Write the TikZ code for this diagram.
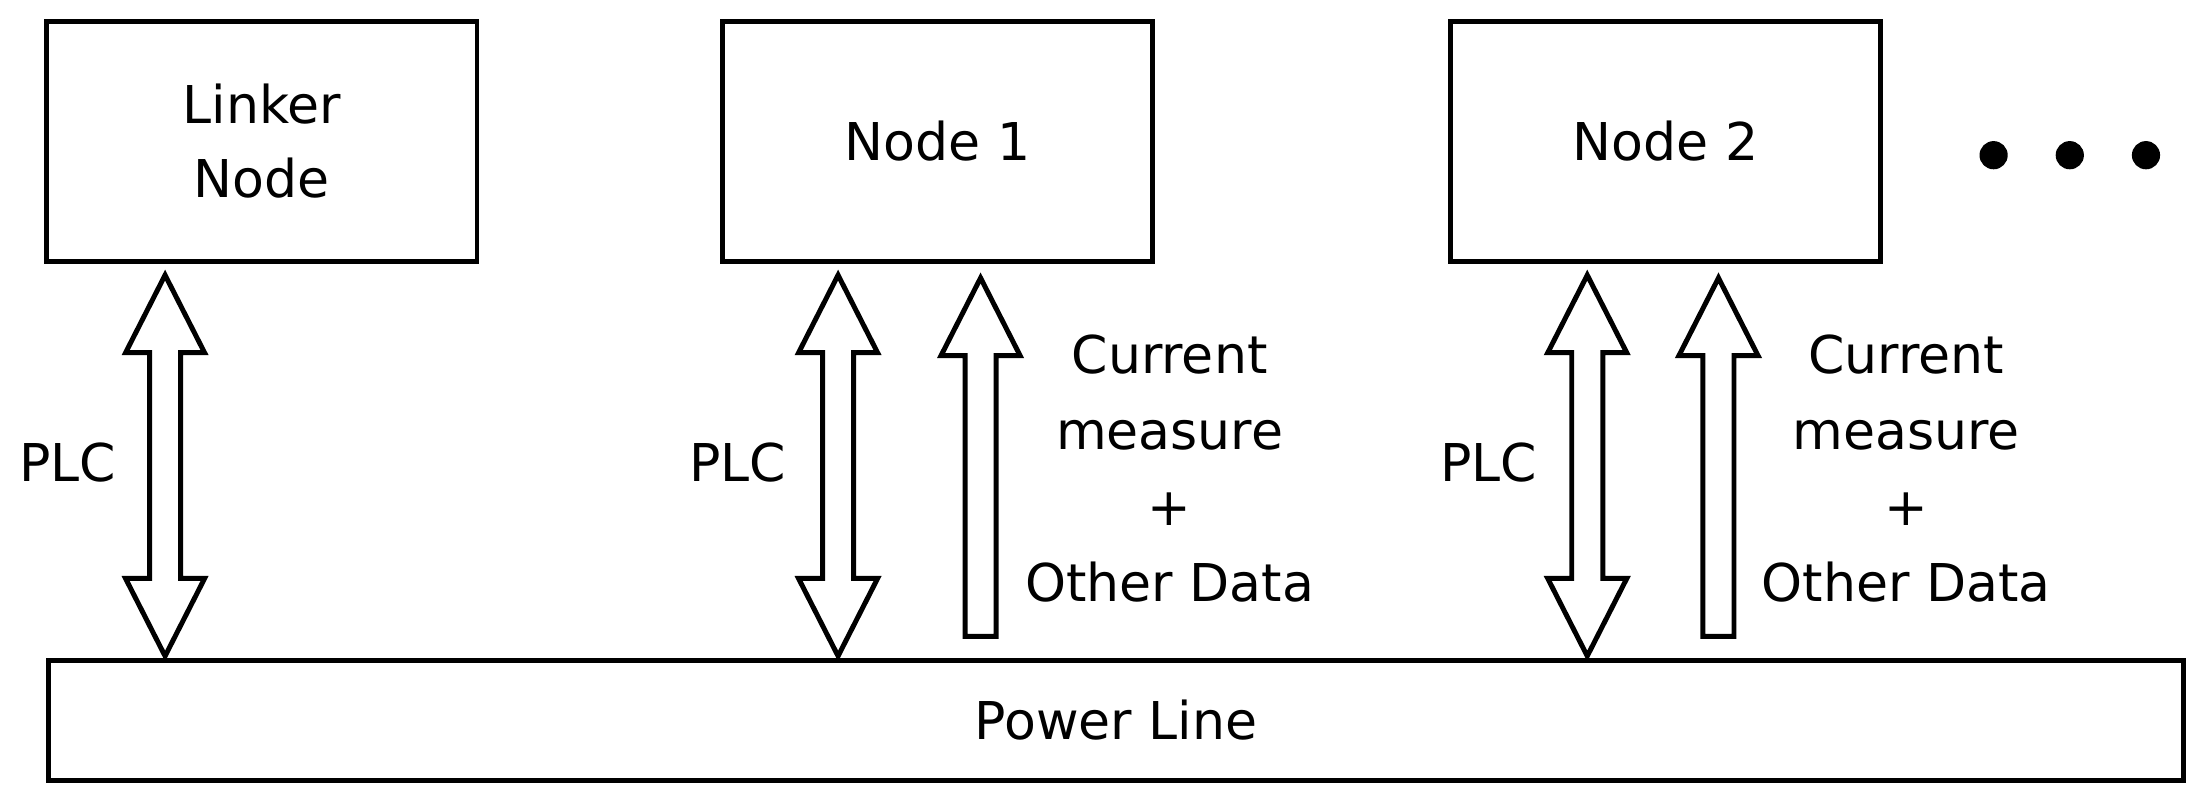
\documentclass[tikz,border=0pt]{standalone}
\usepackage{fontspec}
\setmainfont{DejaVu Sans}
\begin{document}
\begin{tikzpicture}[x=0.01cm,y=-0.01cm,line width=1pt,
  box/.style={draw,minimum width=3.05cm,minimum height=1.7cm,align=center,inner sep=0,font=\fontsize{10.5}{15}\selectfont},
  lbl/.style={align=center,font=\fontsize{10.5}{15.3}\selectfont}]
\useasboundingbox (0,0) rectangle (1560,573);
\newcommand{\dblarrow}[3]{% x, ytop, ybot
  \draw[fill=white] (#1,#2) -- (#1+28,#2+55) -- (#1+11,#2+55) -- (#1+11,#3-55) -- (#1+28,#3-55) -- (#1,#3)
    -- (#1-28,#3-55) -- (#1-11,#3-55) -- (#1-11,#2+55) -- (#1-28,#2+55) -- cycle;}
\newcommand{\uparr}[3]{%
  \draw[fill=white] (#1,#2) -- (#1+28,#2+55) -- (#1+11,#2+55) -- (#1+11,#3) -- (#1-11,#3) -- (#1-11,#2+55) -- (#1-28,#2+55) -- cycle;}
\node[box] (linker) at (185.5,100) {Linker\\Node};
\node[box] (n1) at (664.5,100) {Node 1};
\node[box] (n2) at (1180.5,100) {Node 2};
\node[draw,minimum width=15.12cm,minimum height=0.85cm,inner sep=0,font=\fontsize{10.5}{15}\selectfont] (pl) at (791,510.5) {Power Line};
\foreach \x in {1413,1467,1521} \fill (\x,110) circle (10);
\dblarrow{117}{195}{465}
\dblarrow{594}{195}{465}
\dblarrow{1125}{195}{465}
\uparr{695}{197}{451}
\uparr{1218}{197}{451}
\node[lbl] (p0) at (48,328) {PLC};
\node[lbl] (p1) at (523,328) {PLC};
\node[lbl] (p2) at (1055,328) {PLC};
\node[lbl] (c1) at (829,332) {Current\\measure\\+\\Other Data};
\node[lbl] (c2) at (1351,332) {Current\\measure\\+\\Other Data};
\end{tikzpicture}
\end{document}
